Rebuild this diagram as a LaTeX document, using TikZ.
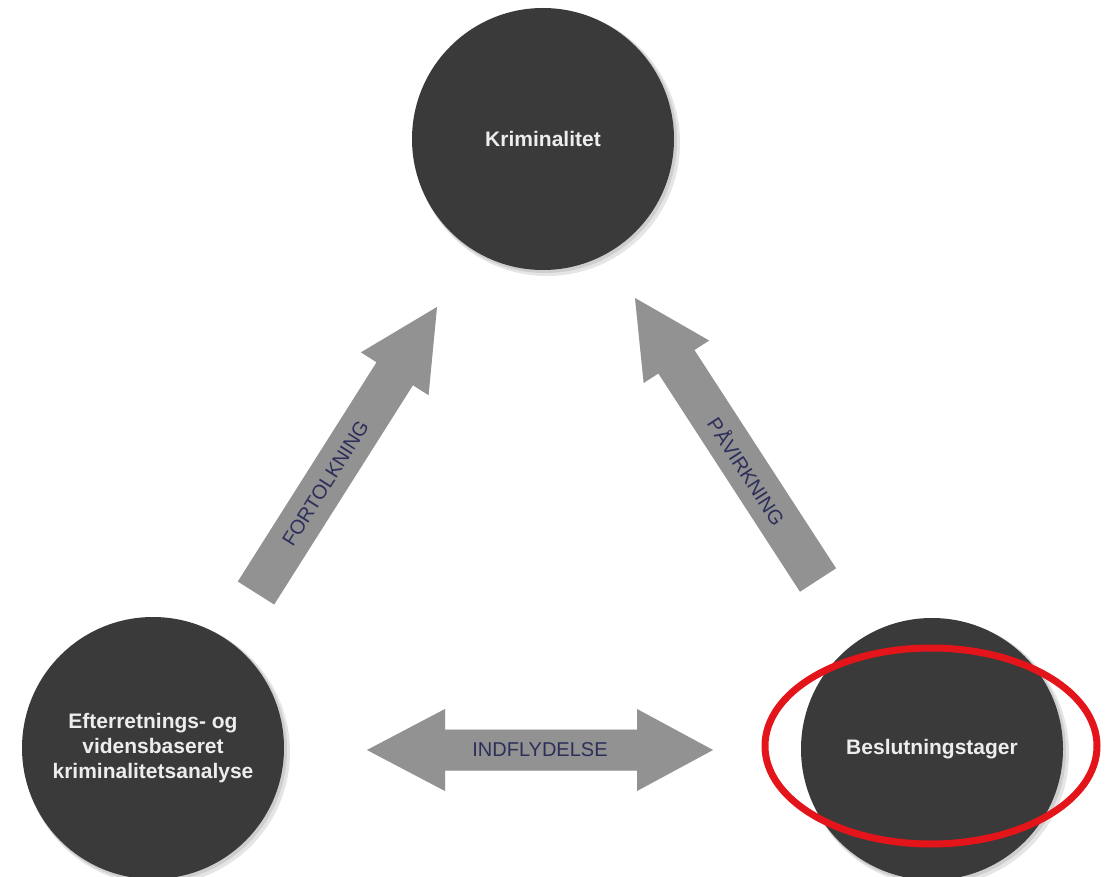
\documentclass[tikz,border=0pt]{standalone}
\usepackage{fontspec}
\setmainfont{Liberation Sans}
\usetikzlibrary{calc,shapes.geometric}
\definecolor{discgray}{HTML}{3A3A3A}
\definecolor{arrowgray}{HTML}{929292}
\definecolor{labelnavy}{HTML}{2C2F5A}
\definecolor{ringred}{HTML}{E3151B}
\newcommand{\myblockarrow}[5]{% tail, tip, half shaft, half head, head length
  \coordinate (#1-neck) at ($(#2)!#5!(#1)$);
  \fill[black, opacity=0.10, shift={(3pt,-3pt)}]
    ($(#1)!#3!90:(#2)$) -- ($(#1-neck)!#3!90:(#2)$) -- ($(#1-neck)!#4!90:(#2)$) -- (#2)
    -- ($(#1-neck)!#4!-90:(#2)$) -- ($(#1-neck)!#3!-90:(#2)$) -- ($(#1)!#3!-90:(#2)$) -- cycle;
  \fill[arrowgray]
    ($(#1)!#3!90:(#2)$) -- ($(#1-neck)!#3!90:(#2)$) -- ($(#1-neck)!#4!90:(#2)$) -- (#2)
    -- ($(#1-neck)!#4!-90:(#2)$) -- ($(#1-neck)!#3!-90:(#2)$) -- ($(#1)!#3!-90:(#2)$) -- cycle;
}
\begin{document}
\begin{tikzpicture}[x=1pt,y=-1pt,
  discnode/.style={circle, fill=discgray, minimum size=262pt, inner sep=0pt,
    text=white!93!black, align=center, font=\bfseries\fontsize{21}{25}\selectfont},
  discshadow/.style={fill=black, opacity=0.10},
  arrowlabel/.style={text=labelnavy, font=\fontsize{20}{24}\selectfont, inner sep=0pt}]
\useasboundingbox (0,0) rectangle (1109,877);
\clip (0,0) rectangle (1109,877);

% shadows of discs
\foreach \cx/\cy in {543/139, 153/748, 932/749}{
  \fill[discshadow] (\cx+4,\cy+4) circle (133pt);
  \fill[discshadow] (\cx+2,\cy+2) circle (132pt);
}

% discs
\node[discnode] (krim) at (543,139) {Kriminalitet};
\node[discnode] (analyse) at (153,748) {Efterretnings- og\\vidensbaseret\\kriminalitetsanalyse};
\node[discnode] (beslut) at (932,749) {Beslutningstager};

% FORTOLKNING arrow
\coordinate (ft) at (256,593);
\coordinate (fp) at (437,307);
\myblockarrow{ft}{fp}{21.5pt}{40pt}{79pt}
\path (ft) -- (ft-neck) node[midway, sloped, arrowlabel] (flabel) {FORTOLKNING};

% PAAVIRKNING arrow
\coordinate (pt) at (818,580);
\coordinate (pp) at (635,298);
\myblockarrow{pt}{pp}{21.5pt}{39pt}{76pt}
\path (pt) -- (pt-neck) node[midway, sloped, arrowlabel] (plabel) {PÅVIRKNING};

% INDFLYDELSE double arrow
\coordinate (il) at (367,750);
\coordinate (ir) at (713,750);
\coordinate (iln) at ($(il)!78pt!(ir)$);
\coordinate (irn) at ($(ir)!76pt!(il)$);
\foreach \dx/\op/\col in {3/0.10/black, 0/1/arrowgray}{
\fill[\col, opacity=\op, shift={(\dx pt,-\dx pt)}]
  (il) -- ($(iln)!41pt!90:(ir)$) -- ($(iln)!20.5pt!90:(ir)$)
  -- ($(irn)!20.5pt!-90:(il)$) -- ($(irn)!41pt!-90:(il)$) -- (ir)
  -- ($(irn)!41pt!90:(il)$) -- ($(irn)!20.5pt!90:(il)$)
  -- ($(iln)!20.5pt!-90:(ir)$) -- ($(iln)!41pt!-90:(ir)$) -- cycle;
}
\path (il) -- (ir) node[midway, arrowlabel] (ilabel) {INDFLYDELSE};

% red ring
\node[ellipse, draw=ringred, line width=7pt, minimum width=332pt, minimum height=196pt,
  inner sep=0pt] (ring) at (931,746) {};
\end{tikzpicture}
\end{document}
